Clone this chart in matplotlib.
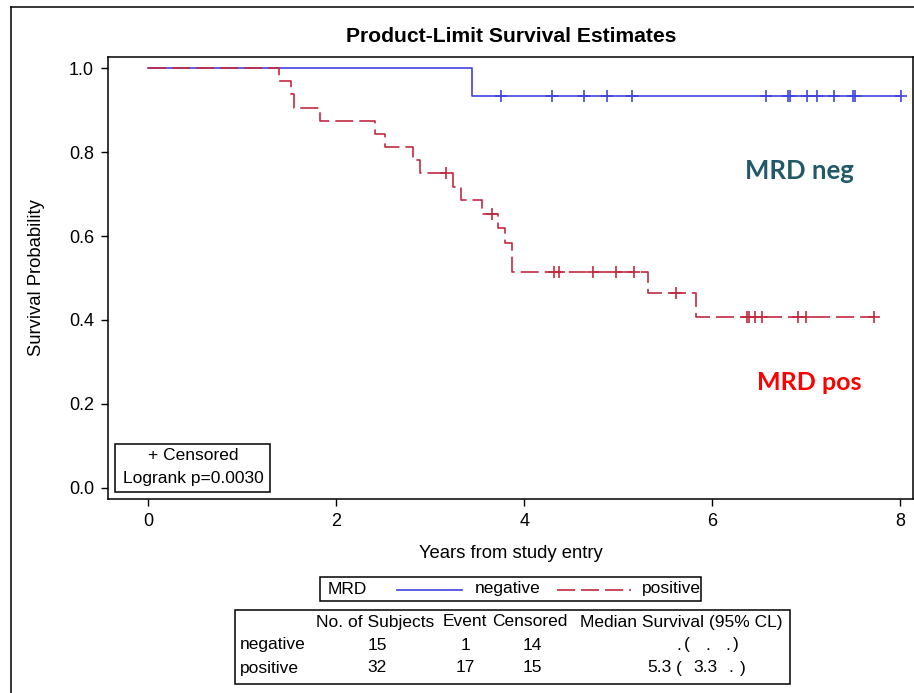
import numpy as np
import matplotlib
matplotlib.use("Agg")
import matplotlib.pyplot as plt
from matplotlib.lines import Line2D
from matplotlib.patches import Rectangle

plt.rcParams['font.family'] = ['Liberation Sans', 'DejaVu Sans']
plt.rcParams['lines.scale_dashes'] = False

# Kaplan-Meier steps
neg_times = [0.0, 3.44, 8.01]
neg_surv = [1.0, 0.933, 0.933]
neg_cens = [3.75, 4.29, 4.63, 4.88, 5.14, 6.57, 6.80, 6.82, 7.01, 7.11, 7.29, 7.49, 7.52, 8.01]

pos_times = [0.0, 1.39, 1.52, 1.55, 1.82, 2.41, 2.52, 2.81, 2.89, 3.24, 3.32,
             3.55, 3.72, 3.79, 3.87, 5.31, 5.82, 7.72]
pos_surv = [1.0, 0.969, 0.938, 0.906, 0.875, 0.844, 0.813, 0.781, 0.750, 0.717, 0.685,
            0.652, 0.618, 0.583, 0.515, 0.464, 0.406, 0.406]
pos_cens = [3.17, 3.65, 4.31, 4.37, 4.73, 4.97, 5.17, 5.61, 6.37, 6.39, 6.45, 6.53,
            6.91, 7.00, 7.72]

groups = ["negative", "positive"]
n_subjects = ["15", "32"]
n_events = ["1", "17"]
n_censored = ["14", "15"]
median = [".", "5.3"]
lower_cl = [".", "3.3"]
upper_cl = [".", "."]

x_ticks = [0, 2, 4, 6, 8]
y_ticks = [0.0, 0.2, 0.4, 0.6, 0.8, 1.0]

blue = "#4242e0"
red = "#c22a40"

W, H = 914, 693


def fx(px):
    return px / W


def fy(py):
    return 1 - py / H


def surv_at(times, surv, t):
    idx = np.searchsorted(times, t, side="right") - 1
    return np.array(surv)[idx]


fig = plt.figure(figsize=(W / 100, H / 100), dpi=100)
ax = fig.add_axes([fx(108), fy(499.3), fx(912.7) - fx(108), fy(56.7) - fy(499.3)])

ax.step(neg_times, neg_surv, where="post", color=blue, lw=1.2)
ax.step(pos_times, pos_surv, where="post", color=red, lw=1.2, linestyle=(0, (13, 4.3)))
ax.plot(neg_cens, surv_at(neg_times, neg_surv, neg_cens), "+", color=blue, ms=8, mew=1.2)
ax.plot(pos_cens, surv_at(pos_times, pos_surv, pos_cens), "+", color=red, ms=8, mew=1.2)

ax.set_xlim(-0.43, 8.13)
ax.set_ylim(-0.027, 1.027)
ax.set_xticks(x_ticks)
ax.set_xticklabels([str(v) for v in x_ticks])
ax.set_yticks(y_ticks)
ax.set_yticklabels([f"{v:.1f}" for v in y_ticks])
ax.tick_params(direction="out", length=5, width=1, labelsize=13, pad=5, colors="black")
for s in ax.spines.values():
    s.set_linewidth(1.1)

fs = 12.5
fig.text(fx(511), fy(36), "Product-Limit Survival Estimates", ha="center", va="center",
         fontsize=15.2, fontweight="bold")
fig.text(fx(37), fy(278), "Survival Probability", rotation=90, ha="center", va="center", fontsize=13.3)
fig.text(fx(511), fy(553), "Years from study entry", ha="center", va="center", fontsize=13.3)

fig.text(fx(745), fy(171), "MRD neg", ha="left", va="center", fontsize=18.5, fontweight="bold",
         color="#215968", family=["Lato", "DejaVu Sans"])
fig.text(fx(757), fy(383), "MRD pos", ha="left", va="center", fontsize=18, fontweight="bold",
         color="#ff0000", family=["Lato", "DejaVu Sans"])

# censored / logrank box
fig.add_artist(Rectangle((fx(115), fy(492)), fx(270) - fx(115), fy(444) - fy(492),
                         transform=fig.transFigure, fill=False, lw=1.1, ec="black"))
fig.text(fx(193), fy(456), "+ Censored", ha="center", va="center", fontsize=fs)
fig.text(fx(193), fy(479), "Logrank p=0.0030", ha="center", va="center", fontsize=fs)

# outer frame
fig.add_artist(Line2D([fx(11), fx(11)], [0, fy(7)], transform=fig.transFigure, color="black", lw=1.1))
fig.add_artist(Line2D([fx(11), 1], [fy(7), fy(7)], transform=fig.transFigure, color="black", lw=1.1))

# legend
fig.add_artist(Rectangle((fx(320), fy(601)), fx(701) - fx(320), fy(577) - fy(601),
                         transform=fig.transFigure, fill=False, lw=1.1, ec="black"))
fig.text(fx(328), fy(589), "MRD", ha="left", va="center", fontsize=fs)
fig.add_artist(Line2D([fx(397), fx(462)], [fy(590), fy(590)], transform=fig.transFigure,
                      color=blue, lw=1.2))
fig.text(fx(475), fy(589), groups[0], ha="left", va="center", fontsize=fs)
fig.add_artist(Line2D([fx(557), fx(631)], [fy(590), fy(590)], transform=fig.transFigure,
                      color=red, lw=1.2, linestyle=(0, (13, 4.3))))
fig.text(fx(642), fy(589), groups[1], ha="left", va="center", fontsize=fs)

# summary table
fig.add_artist(Rectangle((fx(235), fy(684)), fx(790) - fx(235), fy(610) - fy(684),
                         transform=fig.transFigure, fill=False, lw=1.1, ec="black"))
hy = fy(622)
fig.text(fx(316), hy, "No. of Subjects", ha="left", va="center", fontsize=fs)
fig.text(fx(443), hy, "Event", ha="left", va="center", fontsize=fs)
fig.text(fx(492), hy, "Censored", ha="left", va="center", fontsize=fs)
fig.text(fx(580), hy, "Median Survival (95% CL)", ha="left", va="center", fontsize=fs)
med_x = [(679, 687, 708, 728, 736), (659, 679, 705, 731, 743)]
for i, yy in enumerate([645, 668]):
    fig.text(fx(240), fy(yy), groups[i], ha="left", va="center", fontsize=fs)
    fig.text(fx(377), fy(yy), n_subjects[i], ha="center", va="center", fontsize=fs)
    fig.text(fx(465), fy(yy), n_events[i], ha="center", va="center", fontsize=fs)
    fig.text(fx(532), fy(yy), n_censored[i], ha="center", va="center", fontsize=fs)
    xm, xo, xl, xu, xc = med_x[i]
    fig.text(fx(xm), fy(yy), median[i], ha="center", va="center", fontsize=fs)
    fig.text(fx(xo), fy(yy), "(", ha="center", va="center", fontsize=fs)
    fig.text(fx(xl), fy(yy), lower_cl[i], ha="center", va="center", fontsize=fs)
    fig.text(fx(xu), fy(yy), upper_cl[i], ha="center", va="center", fontsize=fs)
    fig.text(fx(xc), fy(yy), ")", ha="center", va="center", fontsize=fs)

fig.savefig("out.png", dpi=100)
